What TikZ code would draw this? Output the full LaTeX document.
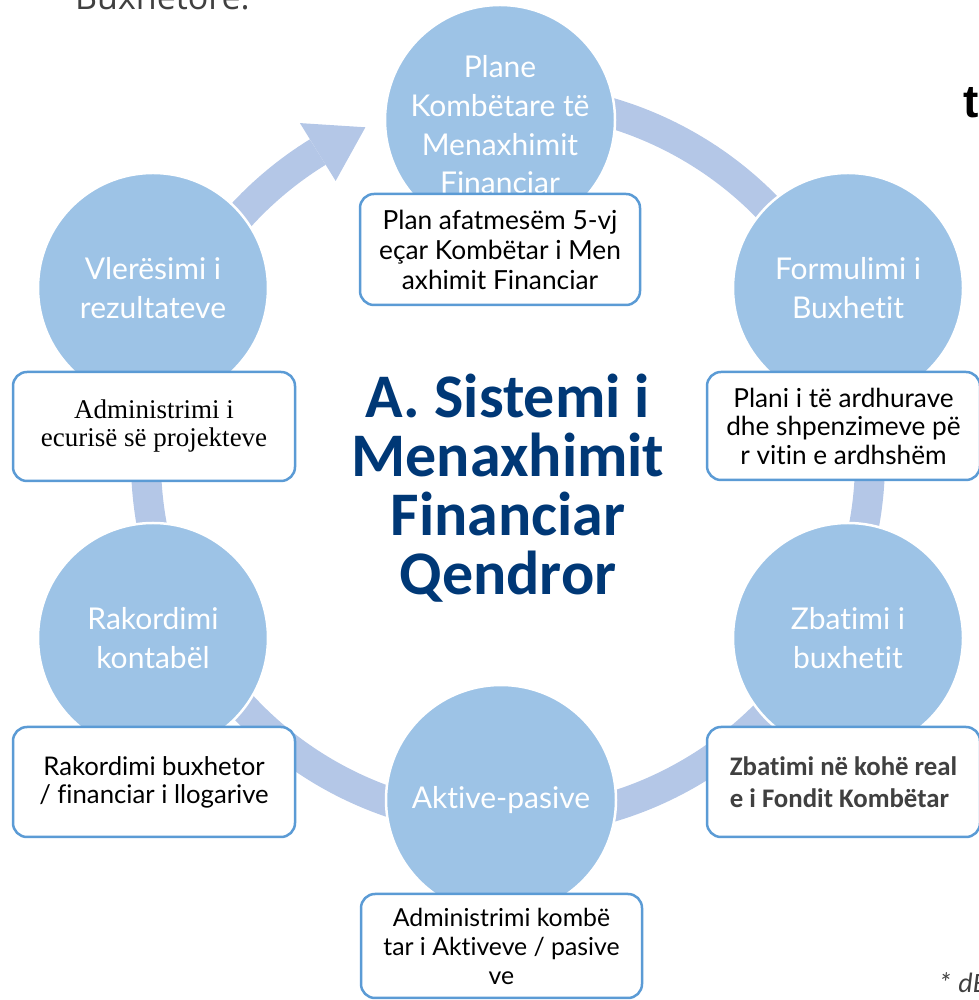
\documentclass[tikz,border=0pt]{standalone}
\usepackage{fontspec}
\setmainfont{Lato}[Ligatures=NoCommon]
\newfontfamily\calfont{Carlito}[Ligatures=NoCommon]
\newfontfamily\timesfont{Liberation Serif}
\newfontfamily\osfont{Open Sans}
\newfontfamily\arfont{Liberation Sans}
\usetikzlibrary{calc}
\definecolor{circfill}{HTML}{9DC3E6}
\definecolor{ringcol}{HTML}{B4C7E7}
\definecolor{boxline}{HTML}{5B9BD5}
\definecolor{titleblue}{RGB}{0,56,118}
\definecolor{darktext}{HTML}{404040}
\begin{document}
\begin{tikzpicture}[x=1pt,y=1pt,
  stage/.style={circle, fill=circfill, draw=white, line width=2.5pt, minimum size=230pt, inner sep=0pt, text=white, font=\fontsize{30}{39}\selectfont, align=center},
  infobox/.style={draw=boxline, line width=2.5pt, fill=white, rounded corners=14pt, inner sep=0pt, align=center},
  ringband/.style={ringcol, line width=30pt}
]
\useasboundingbox (0,0) rectangle (978,1000);
% cycle ring with arrow head
\coordinate (rc) at (508,540);
\coordinate (ringstart) at ($(rc)+(121.7:362)$);
\coordinate (tip) at ($(rc)+(113.2:362)$);
\coordinate (hl) at ($(rc)+(121.7:396)$);
\coordinate (hr) at ($(rc)+(121.7:328)$);
\draw[ringband] (ringstart) arc[start angle=121.7, end angle=450, radius=362];
\fill[ringcol] (tip) -- (hl) -- (hr) -- cycle;
% stages
\node[stage] (plan) at (500,880) {};
\node[text=white, font=\fontsize{30}{38.7}\selectfont, align=center, inner sep=0pt] (plantext) at (500,875) {Plane\\Kombëtare të\\Menaxhimit\\Financiar};
\node[stage] (form) at (848,712) {Formulimi i\\Buxhetit};
\node[stage] (zbat) at (848,362) {Zbatimi i\\buxhetit};
\node[stage] (akt) at (501,200) {Aktive-pasive};
\node[stage] (rak) at (153,362) {Rakordimi\\kontabël};
\node[stage] (vle) at (153,712) {Vlerësimi i\\rezultateve};
% boxes
\node[infobox, minimum width=280pt, minimum height=111pt, font=\fontsize{26.3}{30}\selectfont] (b1) at (500,750.5) {Plan afatmesëm 5-vj\\eçar Kombëtar i Men\\axhimit Financiar};
\node[infobox, minimum width=273pt, minimum height=108pt, font=\fontsize{26.2}{28.5}\selectfont] (b2) at (843.5,574) {Plani i të ardhurave\\dhe shpenzimeve pë\\r vitin e ardhshëm};
\node[infobox, minimum width=282pt, minimum height=109pt, font=\timesfont\fontsize{27}{28}\selectfont] (b6) at (154,573.5) {Administrimi i\\ecurisë së projekteve};
\node[infobox, minimum width=273pt, minimum height=110pt, align=left, text=darktext, font=\calfont\bfseries\fontsize{26.8}{32}\selectfont] (b3) at (843.5,218) {Zbatimi në kohë real\\e i Fondit Kombëtar};
\node[infobox, minimum width=282pt, minimum height=110pt, font=\fontsize{25.7}{28}\selectfont] (b5) at (154,218) {Rakordimi buxhetor\\/ financiar i llogarive};
\node[infobox, minimum width=281pt, minimum height=104pt, font=\fontsize{24.8}{29}\selectfont] (b4) at (501.5,54) {Administrimi kombë\\tar i Aktiveve / pasive\\ve};
% title
\node[font=\calfont\bfseries\fontsize{62}{59}\selectfont, text=titleblue, align=center, inner sep=0pt] (title) at (508,512) {A. Sistemi i\\Menaxhimit\\Financiar\\Qendror};
% cut-off page texts
\node[font=\osfont\fontsize{34}{40}\selectfont, text=darktext, anchor=base west, inner sep=0pt] (buxh) at (75,990) {Buxhetore.};
\node[font=\arfont\bfseries\fontsize{46}{50}\selectfont, anchor=base west, inner sep=0pt] (tt) at (963,882) {t};
\node[font=\calfont\itshape\fontsize{28}{32}\selectfont, text=darktext, anchor=base west, inner sep=0pt] (note) at (938,7) {* dE};
\end{tikzpicture}
\end{document}
